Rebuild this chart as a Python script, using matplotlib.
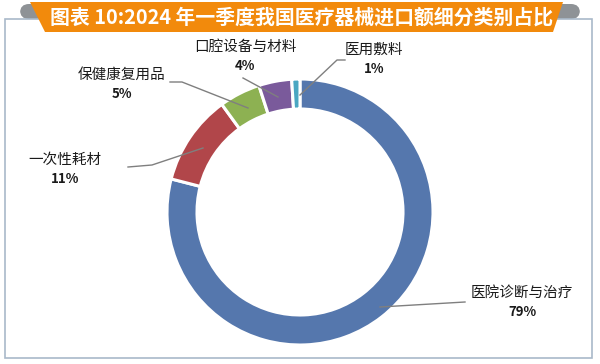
import matplotlib.pyplot as plt
from matplotlib.patches import Polygon, Rectangle, FancyBboxPatch

plt.rcParams['font.family'] = ['Noto Sans CJK SC', 'DejaVu Sans']

# ---------------- DATA ----------------
title = "图表 10:2024 年一季度我国医疗器械进口额细分类别占比"
categories = ["医院诊断与治疗", "一次性耗材", "保健康复用品", "口腔设备与材料", "医用敷料"]
shares = [79, 11, 5, 4, 1]
colors = ["#5577AD", "#B1464A", "#8DB152", "#7A5A9B", "#4AA7C2"]

# label positions (pixel coords, y down) and leader lines
label_pos = [(522, 293), (65, 160), (122, 75), (245, 47), (374, 50)]
leaders = [
    [(380, 307), (465, 302)],
    [(203, 148), (152, 165), (128, 167)],
    [(248, 108), (182, 82), (170, 82)],
    [(278, 97), (243, 78)],
    [(300, 95), (337, 60), (345, 60)],
]

H = 364
fig = plt.figure(figsize=(6, 3.64), dpi=100)
ax = fig.add_axes([0, 0, 1, 1])
ax.set_xlim(0, 600)
ax.set_ylim(0, H)
ax.set_aspect("equal")
ax.axis("off")

# title banner: grey tabs + orange trapezoid
for x0 in (20, 548):
    ax.add_patch(FancyBboxPatch((x0, H - 19), 32, 15, boxstyle="round,pad=0,rounding_size=9",
                                facecolor="#8E9296", edgecolor="none"))

# frame
ax.add_patch(Rectangle((5, H - 358), 587, 339, fill=False, edgecolor="#A9B9C9", lw=1.2))

ax.add_patch(Polygon([(30, H - 2), (563, H - 2), (553, H - 32), (45, H - 32)],
                     closed=True, facecolor="#F28A0C", edgecolor="none"))
ax.text(302, H - 17, title, color="white", fontsize=14.3, fontweight="bold",
        ha="center", va="center")

# donut
ax.pie(shares, colors=colors, startangle=90, counterclock=False,
       center=(300, H - 212), radius=133,
       wedgeprops=dict(width=30, edgecolor="white", linewidth=2.2))
ax.set_xlim(0, 600)
ax.set_ylim(0, H)

for pts in leaders:
    ax.plot([p[0] for p in pts], [H - p[1] for p in pts], color="#7F7F7F", lw=1)

for (x, y), name, v in zip(label_pos, categories, shares):
    ax.text(x, H - y, name, fontsize=10.5, ha="center", va="center", color="#1A1A1A")
    ax.text(x, H - y - 19, f"{v}%", fontsize=9.5, fontweight="bold", ha="center",
            va="center", color="#1A1A1A")

fig.savefig("out.png", dpi=100)
